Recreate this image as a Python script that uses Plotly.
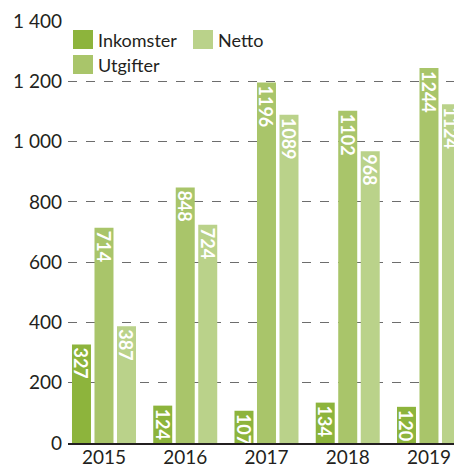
import plotly.graph_objects as go

years = ["2015", "2016", "2017", "2018", "2019"]
inkomster = [327, 124, 107, 134, 120]
utgifter = [714, 848, 1196, 1102, 1244]
netto = [387, 724, 1089, 968, 1124]
series_names = ["Inkomster", "Utgifter", "Netto"]
colors = ["#8db43c", "#a9c56a", "#bad28a"]
y_ticks = [0, 200, 400, 600, 800, 1000, 1200, 1400]

W, H = 454, 465
L, R, T, B = 68, 0, 21, 22
PW, PH = W - L - R, H - T - B


def xp(px):
    return (px - L) / PW


def yp(py):
    return (H - B - py) / PH


fig = go.Figure()
for name, vals, col in zip(series_names, [inkomster, utgifter, netto], colors):
    fig.add_trace(go.Bar(
        x=years, y=vals, name=name, marker=dict(color=col, line=dict(width=0)),
        text=[str(v) for v in vals], textposition="inside", insidetextanchor="end",
        textangle=90, constraintext="none",
        textfont=dict(family="Lato", size=18, color="white", weight="bold"),
        showlegend=False, cliponaxis=True, hoverinfo="skip",
    ))

font_txt = dict(family="Lato", size=19, color="#231f20")
font_leg = dict(family="Lato", size=18, color="#231f20")

# Legend drawn as swatches + real text
legend_items = [("Inkomster", colors[0], 73, 30), ("Netto", colors[2], 193, 30), ("Utgifter", colors[1], 73, 55)]
shapes = []
annotations = []
for name, col, x0, y0 in legend_items:
    shapes.append(dict(type="rect", xref="paper", yref="paper",
                       x0=xp(x0), x1=xp(x0 + 20), y0=yp(y0 + 19), y1=yp(y0),
                       fillcolor=col, line=dict(width=0), layer="above"))
    annotations.append(dict(text=name, xref="paper", yref="paper", x=xp(x0 + 23), y=yp(y0 + 9.5),
                            xanchor="left", yanchor="middle", showarrow=False, font=font_leg))

fig.update_layout(
    width=W, height=H, margin=dict(l=L, r=R, t=T, b=B, autoexpand=False),
    paper_bgcolor="white", plot_bgcolor="white",
    barmode="group", bargap=0.169, bargroupgap=0.156,
    separators=", ",
    shapes=shapes, annotations=annotations,
    font=font_txt,
    xaxis=dict(type="category", range=[-0.443, 4.308], showline=True, linecolor="#231f20",
               linewidth=1.5, ticks="", showgrid=False, tickfont=font_txt, ticklabelstandoff=-4,
               automargin=False, fixedrange=True),
    yaxis=dict(range=[0, 1400], tickvals=y_ticks, tickformat=",d", showgrid=True, gridcolor="#6d6d6d",
               griddash="dash", gridwidth=1, zeroline=False, showline=False, ticks="",
               ticklabelstandoff=5, tickfont=font_txt, automargin=False, fixedrange=True),
)

fig.write_html("out.html", config={"displayModeBar": False},
               post_script="document.body.style.margin='0';document.body.style.overflow='hidden';")
